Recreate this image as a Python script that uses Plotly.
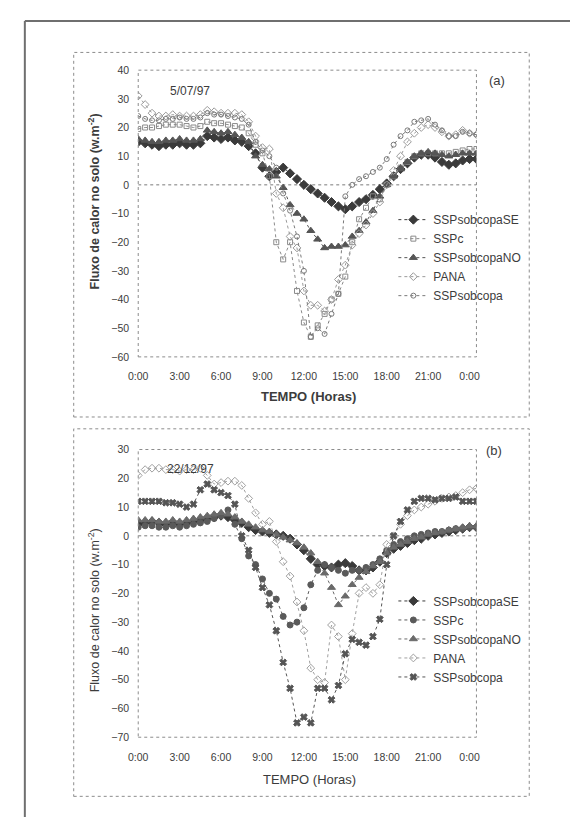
import plotly.graph_objects as go

W, H = 578, 817

# ---------------- data ----------------
hours = [i * 0.5 for i in range(50)]  # 0:00 .. 24:30

series_names = ["SSPsobcopaSE", "SSPc", "SSPsobcopaNO", "PANA", "SSPsobcopa"]

# Panel (a) 5/07/97
a_SE = [15, 14.5, 14, 13.5, 14, 14, 14.5, 14, 14, 14.5, 17, 16.5, 16, 16.5, 15.5, 15, 13.5, 11, 6, 3,
        4.5, 6, 4, 2, 0, -1.5, -3, -4.5, -6, -7.5, -8.5, -7.5, -6, -5, -3.5, -1.5, 0.5, 3, 5.5, 7.5,
        9.5, 10.5, 10.5, 9.5, 8, 7, 7.5, 8.5, 9, 9]
a_SSPc = [19.5, 20, 20, 20.5, 21, 21, 21, 20.5, 20, 20.5, 22, 21.5, 21.5, 21, 20.5, 20, 18, 14, 11, 3,
          -20, -26, -20, -37, -48, -53, -49, -45, -40, -38, -32, -20, -12, -8, -4, -5, 0, 3, 6, 8,
          10, 11, 11, 11, 11, 11, 11.5, 12, 12.5, 12.5]
a_NO = [16, 15.5, 15, 15, 15.5, 15.5, 16, 15.5, 15.5, 16, 19, 18.5, 18, 18.5, 17.5, 16.5, 15, 10, 7, 5.5,
        3, -1, -7, -10, -12, -16, -19, -22, -21.5, -21.5, -21, -18, -16, -13, -9, -4, 0, 3, 5.5, 8,
        10, 11, 11.5, 11, 10.5, 10, 10.5, 11, 11, 11]
a_PANA = [31, 28, 25, 24, 24, 24.5, 24, 24, 24, 24.5, 26, 25.5, 25, 25, 25, 24.5, 22, 17, 13, 12.5,
          -3, -8, -18, -22, -37, -42, -42, -44, -40, -33, -28, -21, -17, -14, -10, -6, 0, 5, 10, 15,
          18, 20, 21, 20, 18.5, 17, 17.5, 19, 18, 17.5]
a_SSPsob = [24, 23, 22.5, 22.5, 23, 23, 23.5, 23, 23, 23.5, 25, 24.5, 24.5, 24, 23.5, 23, 21, 15, 12, 10,
            6, -3, -9, -18, -30, -53, -50, -52, -45, -38, -4, 0, 2, 3, 4.5, 6, 9, 14, 17, 19,
            22, 22.5, 23, 21, 19, 17, 17, 18.5, 18, 17.5]

# Panel (b) 22/12/97
b_SE = [4, 4.5, 5, 4.5, 4, 4.5, 4, 4.5, 5, 5.5, 6, 6.5, 7, 6.5, 5.5, 4.5, 3, 2, 1.5, 1,
        0.5, 0, -1, -3, -5, -8, -10, -10.5, -11, -10, -9.5, -10.5, -12, -12, -11, -9, -6, -4.5, -3.5, -2.5,
        -1.5, -1, 0, 0.5, 1, 1.5, 2, 2.5, 3, 3]
b_SSPc = [3, 3.5, 3.5, 3, 3, 3.5, 3, 3.5, 4, 4.5, 5, 6, 7, 9, 4, -1, -7, -10, -15, -20,
          -22, -28, -31, -30, -25, -17, -12, -10, -11, -12, -13, -12, -12, -11, -10, -8, -5, -3, -2, -1,
          0, 0.5, 1, 1.5, 1.5, 2, 2.5, 2.5, 3, 3]
b_NO = [5.5, 5.5, 5.5, 5, 5, 5.5, 5, 5.5, 6, 6.5, 7, 7.5, 8, 7.5, 6.5, 5, 4, 3, 2, 1.5,
        0.5, -0.5, -1.5, -2.5, -4, -6, -9, -13, -18, -24, -21, -17, -14.5, -12.5, -10.5, -9, -6, -4, -3, -2,
        -1, -0.5, 0.5, 1, 1.5, 2, 2.5, 3, 3.5, 3.5]
b_PANA = [21, 23, 23.5, 23.5, 23, 23, 22.5, 23, 23, 23.5, 21, 18, 18.5, 19, 19, 17.5, 13, 8, 4, 5,
          -2, -9, -14, -23, -33, -46, -50, -51, -31, -35, -50, -34, -20, -18, -20, -17, -3, 0, 4, 7,
          9, 10, 11, 12, 13, 13.5, 14, 15, 16, 16.5]
b_SSPsob = [12, 12, 12, 12, 11.5, 11.5, 11, 10, 11, 16, 18, 16, 15, 14, 11, 0, -5, -11, -18, -24,
            -33, -44, -53, -65, -63, -65, -53, -53, -57, -52, -41, -36, -37, -38, -35, -29, -10, 0, 5, 9,
            12, 13, 13, 12.5, 13, 13, 13.5, 12, 12, 12]

x_tickvals = [0, 3, 6, 9, 12, 15, 18, 21, 24]
x_ticktext = ["0:00", "3:00", "6:00", "9:00", "12:00", "15:00", "18:00", "21:00", "0:00"]

# ---------------- helpers ----------------
def px(xp):
    return xp / W

def py(yp):
    return 1 - yp / H

FONT = "Liberation Sans, Arial, sans-serif"
TXT = "#3c3c3c"

fig = go.Figure()

styles_a = [
    dict(symbol="diamond", color="#3a3a3a", size=7),
    dict(symbol="square-open", color="#8a8a8a", size=5),
    dict(symbol="triangle-up", color="#555555", size=7),
    dict(symbol="diamond-open", color="#9a9a9a", size=6),
    dict(symbol="circle-open", color="#7a7a7a", size=5),
]
styles_b = [
    dict(symbol="diamond", color="#3a3a3a", size=7),
    dict(symbol="circle", color="#5a5a5a", size=6),
    dict(symbol="triangle-up", color="#6a6a6a", size=7),
    dict(symbol="diamond-open", color="#a0a0a0", size=6),
    dict(symbol="x", color="#555555", size=6),
]

for name, vals, st in zip(series_names, [a_SE, a_SSPc, a_NO, a_PANA, a_SSPsob], styles_a):
    fig.add_trace(go.Scatter(
        x=hours, y=vals, name=name, mode="lines+markers",
        line=dict(color=st["color"], width=1, dash="dot"),
        marker=dict(symbol=st["symbol"], size=st["size"], color=st["color"],
                    line=dict(color=st["color"], width=1)),
        xaxis="x", yaxis="y", legend="legend"))

for name, vals, st in zip(series_names, [b_SE, b_SSPc, b_NO, b_PANA, b_SSPsob], styles_b):
    fig.add_trace(go.Scatter(
        x=hours, y=vals, name=name, mode="lines+markers",
        line=dict(color=st["color"], width=1, dash="dot"),
        marker=dict(symbol=st["symbol"], size=st["size"], color=st["color"],
                    line=dict(color=st["color"], width=1)),
        xaxis="x2", yaxis="y2", legend="legend2"))

xdom = [px(123), px(469)]
ya_dom = [py(348), py(57)]
yb_dom = [py(734), py(442)]

common_x = dict(range=[0, 24.5], tickvals=x_tickvals, ticktext=x_ticktext, showgrid=False,
                zeroline=False, showline=False, ticks="outside", ticklen=10,
                tickcolor="rgba(0,0,0,0)", tickfont=dict(family=FONT, size=10.5, color=TXT),
                domain=xdom)
common_y = dict(showgrid=False, zeroline=False, showline=False, ticks="outside", ticklen=6,
                tickcolor="rgba(0,0,0,0)", tickfont=dict(family=FONT, size=10.5, color=TXT),
                dtick=10)

fig.update_layout(
    width=W, height=H, margin=dict(l=0, r=0, t=0, b=0),
    paper_bgcolor="white", plot_bgcolor="white",
    xaxis=dict(common_x, anchor="y"),
    yaxis=dict(common_y, range=[-60, 40], tickvals=list(range(-60, 41, 10)), domain=ya_dom, anchor="x"),
    xaxis2=dict(common_x, anchor="y2"),
    yaxis2=dict(common_y, range=[-70, 30], tickvals=list(range(-70, 31, 10)), domain=yb_dom, anchor="x2"),
    legend=dict(x=px(384), y=py(194), xanchor="left", yanchor="top",
                font=dict(family=FONT, size=12, color=TXT), bgcolor="rgba(0,0,0,0)",
                tracegroupgap=0, itemwidth=30),
    legend2=dict(x=px(384), y=py(581), xanchor="left", yanchor="top",
                 font=dict(family=FONT, size=12, color=TXT), bgcolor="rgba(0,0,0,0)",
                 tracegroupgap=0, itemwidth=30),
    showlegend=True,
)

shapes = []
# page border (left + top)
shapes.append(dict(type="line", xref="paper", yref="paper", x0=px(7), x1=px(7), y0=0, y1=py(7),
                   line=dict(color="#6f6f6f", width=2)))
shapes.append(dict(type="line", xref="paper", yref="paper", x0=px(7), x1=1, y0=py(7), y1=py(7),
                   line=dict(color="#6f6f6f", width=2)))
# panel frames
for (x0, x1, y0, y1) in [(57, 523, 39, 409), (57, 523, 421, 794)]:
    shapes.append(dict(type="rect", xref="paper", yref="paper", x0=px(x0), x1=px(x1),
                       y0=py(y1), y1=py(y0), line=dict(color="#8c8c8c", width=1, dash="dot")))
# plot area frames
for (x0, x1, y0, y1) in [(123, 469, 57, 348), (123, 469, 442, 734)]:
    shapes.append(dict(type="rect", xref="paper", yref="paper", x0=px(x0), x1=px(x1),
                       y0=py(y1), y1=py(y0), line=dict(color="#8c8c8c", width=1, dash="dot")))
# zero lines (x axis crossing at 0)
for xr, yr in [("x", "y"), ("x2", "y2")]:
    shapes.append(dict(type="line", xref=xr, yref=yr, x0=0, x1=24.5, y0=0, y1=0,
                       line=dict(color="#7a7a7a", width=1, dash="dot"), layer="below"))
fig.update_layout(shapes=shapes)

def add_text(text, x, y, size, angle=0):
    return dict(text=text, x=px(x), y=py(y), xref="paper", yref="paper", showarrow=False,
                xanchor="center", yanchor="middle", textangle=angle,
                font=dict(family=FONT, size=size, color=TXT))

ann = [
    add_text("5/07/97", 176, 78, 12),
    add_text("(a)", 490, 67, 13),
    add_text("(b)", 487, 443, 13),
    add_text("22/12/97", 176, 462, 12),
    add_text("<b>TEMPO (Horas)</b>", 297, 388, 13),
    add_text("TEMPO (Horas)", 298, 777, 13),
    add_text("<b>Fluxo de calor no solo (w.m<sup>-2</sup>)</b>", 78, 190, 12.5, -90),
    add_text("Fluxo de calor no solo (w.m<sup>-2</sup>)", 78, 605, 12.5, -90),
]
fig.update_layout(annotations=ann)

fig.write_html("out.html")
